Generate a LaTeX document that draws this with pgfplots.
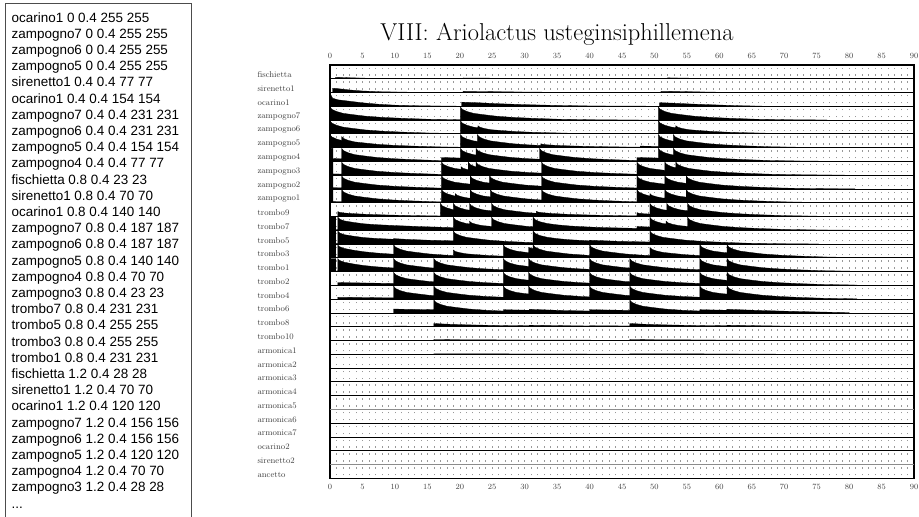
\documentclass[border=0pt]{standalone}
\usepackage{fontspec}
\usepackage{pgfplots}
\pgfplotsset{compat=1.18}
\newfontfamily\boxfont{Liberation Sans}
\def\tdots{...}
\pgfplotsset{env/.style={black, fill=black, line width=0.3bp, mark=none}}
\begin{document}
\begin{tikzpicture}
\useasboundingbox (0bp,0bp) rectangle (919bp,-517bp);
\draw[black!70, line width=1bp] (5bp,-3bp) rectangle (191bp,-540bp);
\foreach \t [count=\i] in {ocarino1 0 0.4 255 255,zampogno7 0 0.4 255 255,zampogno6 0 0.4 255 255,zampogno5 0 0.4 255 255,sirenetto1 0.4 0.4 77 77,ocarino1 0.4 0.4 154 154,zampogno7 0.4 0.4 231 231,zampogno6 0.4 0.4 231 231,zampogno5 0.4 0.4 154 154,zampogno4 0.4 0.4 77 77,fischietta 0.8 0.4 23 23,sirenetto1 0.8 0.4 70 70,ocarino1 0.8 0.4 140 140,zampogno7 0.8 0.4 187 187,zampogno6 0.8 0.4 187 187,zampogno5 0.8 0.4 140 140,zampogno4 0.8 0.4 70 70,zampogno3 0.8 0.4 23 23,trombo7 0.8 0.4 231 231,trombo5 0.8 0.4 255 255,trombo3 0.8 0.4 255 255,trombo1 0.8 0.4 231 231,fischietta 1.2 0.4 28 28,sirenetto1 1.2 0.4 70 70,ocarino1 1.2 0.4 120 120,zampogno7 1.2 0.4 156 156,zampogno6 1.2 0.4 156 156,zampogno5 1.2 0.4 120 120,zampogno4 1.2 0.4 70 70,zampogno3 1.2 0.4 28 28,\tdots}
  \node[anchor=base west, inner sep=0pt, font=\boxfont\fontsize{13.5}{16}\selectfont] at (11.5bp,{-22bp-16.2bp*(\i-1)}) {\t};
\node[anchor=base, inner sep=0pt, font=\fontsize{24.5}{26}\selectfont] at (557bp,-40bp) {VIII: Ariolactus usteginsiphillemena};
\begin{axis}[
  at={(330bp,-478.3bp)}, anchor=south west,
  width=584bp, height=413.3bp, scale only axis,
  xmin=0, xmax=90, ymin=0, ymax=30,
  xtick={0,5,...,90}, minor x tick num=4,
  xmajorgrids, xminorgrids,
  major grid style={black!40, line width=0.55bp, dash pattern=on 1.4bp off 5.49bp, dash phase=4bp},
  minor grid style={black!40, line width=0.55bp, dash pattern=on 1.4bp off 5.49bp, dash phase=4bp},
  major tick length=0pt, minor tick length=0pt,
  axis line style={line width=1.4bp},
  xticklabel style={font=\fontsize{8}{9}\selectfont, text=black!75, yshift=-2.5bp},
  ytick={0.28,1.28,2.28,3.28,4.28,5.28,6.28,7.28,8.28,9.28,10.28,11.28,12.28,13.28,14.28,15.28,16.28,17.28,18.28,19.28,20.28,21.28,22.28,23.28,24.28,25.28,26.28,27.28,28.28,29.28},
  yticklabels={ancetto,sirenetto2,ocarino2,armonica7,armonica6,armonica5,armonica4,armonica3,armonica2,armonica1,trombo10,trombo8,trombo6,trombo4,trombo2,trombo1,trombo3,trombo5,trombo7,trombo9,zampogno1,zampogno2,zampogno3,zampogno4,zampogno5,zampogno6,zampogno7,ocarino1,sirenetto1,fischietta},
  yticklabel style={anchor=west, xshift=-76bp, font=\fontsize{8.5}{10}\selectfont, text=black!75},
]
% fischietta
\addplot[env] table[row sep=\\, x=x, y expr=\thisrow{a}*0.95+29] {x a\\
0.8 0\\ 0.8 0.09\\ 1.2 0.11\\ 3 0.08\\ 6 0.04\\ 10 0.015\\ 20.5 0.005\\ 20.5 0.06\\ 24 0.05\\ 30 0.03\\ 36 0.012\\ 52 0.005\\ 52 0.07\\ 55 0.05\\ 60 0.02\\ 65 0.005\\ 65 0\\};
% sirenetto1
\addplot[env] table[row sep=\\, x=x, y expr=\thisrow{a}*0.95+28] {x a\\
0.4 0\\ 0.4 0.33\\ 1.2 0.3\\ 3 0.2\\ 5 0.12\\ 8 0.06\\ 12 0.03\\ 20.5 0.01\\ 20.5 0.09\\ 25 0.07\\ 30 0.04\\ 36 0.02\\ 51 0.01\\ 51 0.1\\ 54 0.08\\ 58 0.04\\ 62 0.015\\ 66 0\\};
% ocarino1
\addplot[env] table[row sep=\\, x=x, y expr=\thisrow{a}*0.95+27] {x a\\
0 0\\ 0 1\\ 0.4 0.62\\ 1.2 0.5\\ 2.5 0.42\\ 5 0.27\\ 7.5 0.16\\ 10 0.09\\ 14 0.04\\ 20.3 0.01\\ 20.3 0.32\\ 23 0.27\\ 26 0.2\\ 30 0.13\\ 35 0.07\\ 40 0.03\\ 50.8 0.01\\ 50.8 0.28\\ 53 0.24\\ 56 0.17\\ 60 0.1\\ 63 0.05\\ 67 0.01\\ 67 0\\};
% zampogno7
\addplot[env] table[row sep=\\, x=x, y expr=\thisrow{a}*0.95+26] {x a\\
0 0\\ 0 1\\ 0.3 .82\\ 1 .66\\ 2 .52\\ 3.5 .42\\ 5.5 .30\\ 8 .21\\ 11 .14\\ 15 .07\\ 20.1 .03\\
20.1 1\\ 20.4 .82\\ 21.1 .66\\ 22.1 .52\\ 23.6 .42\\ 25.6 .30\\ 28.1 .21\\ 31.1 .14\\ 35.1 .07\\ 40.1 .03\\ 46.1 .01\\ 50.6 .005\\
50.6 1\\ 50.9 .82\\ 51.6 .66\\ 52.6 .52\\ 54.1 .42\\ 56.1 .30\\ 58.6 .21\\ 61.6 .14\\ 65.6 .07\\ 70.6 .03\\ 76.6 .01\\ 76.6 0\\};
% zampogno6
\addplot[env] table[row sep=\\, x=x, y expr=\thisrow{a}*0.95+25] {x a\\
0 0\\ 0 1\\ 0.3 .82\\ 1 .66\\ 2 .52\\ 3.5 .42\\ 5.5 .30\\ 8 .21\\ 11 .14\\ 15 .07\\ 20.1 .03\\
20.1 1\\ 20.4 .82\\ 21.1 .66\\ 22.1 .52\\ 22.8 .47\\
22.8 .62\\ 23.1 .51\\ 23.8 .41\\ 24.8 .32\\ 26.3 .26\\ 28.3 .19\\ 30.8 .13\\ 33.8 .087\\ 37.8 .043\\ 42.8 .019\\ 48.8 .006\\ 50.6 .004\\
50.6 1\\ 50.9 .82\\ 51.6 .66\\ 52.6 .52\\ 53.3 .47\\
53.3 .62\\ 53.6 .51\\ 54.3 .41\\ 55.3 .32\\ 56.8 .26\\ 58.8 .19\\ 61.3 .13\\ 64.3 .087\\ 68.3 .043\\ 73.3 .019\\ 79.3 .006\\ 79.3 0\\};
% zampogno5
\addplot[env] table[row sep=\\, x=x, y expr=\thisrow{a}*0.95+24] {x a\\
0 0\\ 0 1\\ 0.3 .82\\ 1 .66\\ 1.8 .55\\
1.8 .85\\ 2.1 .70\\ 2.8 .56\\ 3.8 .44\\ 5.3 .36\\ 7.3 .255\\ 9.8 .18\\ 12.8 .12\\ 16.8 .06\\ 20.1 .037\\
20.1 1\\ 20.4 .82\\ 21.1 .66\\ 22.1 .52\\ 22.7 .48\\
22.7 1\\ 23 .82\\ 23.7 .66\\ 24.7 .52\\ 26.2 .42\\ 28.2 .30\\ 30.7 .21\\ 32.5 .17\\
32.5 .3\\ 32.8 .255\\ 33.5 .216\\ 35 .174\\ 37 .135\\ 39.5 .10\\ 42.5 .072\\ 46.5 .045\\ 47.8 .04\\
47.8 .12\\ 50.6 .10\\
50.6 1\\ 50.9 .82\\ 51.6 .66\\ 52.6 .52\\ 52.9 .50\\
52.9 1\\ 53.2 .82\\ 53.9 .66\\ 54.9 .52\\ 56.4 .42\\ 58.4 .30\\ 60.9 .21\\ 63.9 .14\\ 67.9 .07\\ 72.9 .03\\ 78.9 .01\\ 78.9 0\\};
% zampogno4
\addplot[env] table[row sep=\\, x=x, y expr=\thisrow{a}*0.95+23] {x a\\
0 0\\ 0 1\\ 0.45 1\\ 0.45 .22\\ 1.8 .2\\
1.8 1\\ 2.1 .82\\ 2.8 .66\\ 3.8 .52\\ 5.3 .42\\ 7.3 .30\\ 9.8 .21\\ 12.8 .14\\ 16.8 .07\\ 17.2 .067\\
17.2 .3\\ 20.1 .26\\
20.1 1\\ 20.4 .82\\ 21.1 .66\\ 22.1 .52\\ 22.5 .49\\
22.5 1\\ 22.8 .82\\ 23.5 .66\\ 24.5 .52\\ 26 .42\\ 28 .30\\ 30.5 .21\\ 32.3 .17\\
32.3 1\\ 32.6 .82\\ 33.3 .66\\ 34.3 .52\\ 35.8 .42\\ 37.8 .30\\ 40.3 .21\\ 43.3 .14\\ 47.3 .07\\
47.3 .3\\ 50.6 .26\\
50.6 1\\ 50.9 .82\\ 51.6 .66\\ 52.6 .52\\ 52.9 .50\\
52.9 1\\ 53.2 .82\\ 53.9 .66\\ 54.9 .52\\ 56.4 .42\\ 58.4 .30\\ 60.9 .21\\ 63.9 .14\\ 67.9 .07\\ 72.9 .03\\ 78.9 .01\\ 78.9 0\\};
% zampogno3
\addplot[env] table[row sep=\\, x=x, y expr=\thisrow{a}*0.95+22] {x a\\
0 0\\ 0 1\\ 0.45 1\\ 0.45 .1\\ 1.8 .09\\
1.8 1\\ 2.1 .82\\ 2.8 .66\\ 3.8 .52\\ 5.3 .42\\ 7.3 .30\\ 9.8 .21\\ 12.8 .14\\ 16.8 .07\\ 17.2 .067\\
17.2 1\\ 17.5 .82\\ 18.2 .66\\ 19.2 .52\\ 20.2 .45\\
20.2 .65\\ 20.5 .53\\ 21.2 .43\\ 21.3 .42\\
21.3 1\\ 21.6 .82\\ 22.3 .66\\ 22.5 .63\\
22.5 1\\ 22.8 .82\\ 23.5 .66\\ 24.5 .52\\ 26 .42\\ 28 .30\\ 30.5 .21\\ 32.6 .16\\
32.6 1\\ 32.9 .82\\ 33.6 .66\\ 34.6 .52\\ 36.1 .42\\ 38.1 .30\\ 40.6 .21\\ 43.6 .14\\ 47.3 .075\\
47.3 1\\ 47.6 .82\\ 48.3 .66\\ 49.3 .52\\ 50.8 .42\\ 51.6 .37\\
51.6 1\\ 51.9 .82\\ 52.6 .66\\ 53.3 .56\\
53.3 1\\ 53.6 .82\\ 54.3 .66\\ 55.3 .52\\ 56.8 .42\\ 58.8 .30\\ 61.3 .21\\ 64.3 .14\\ 68.3 .07\\ 73.3 .03\\ 79.3 .01\\ 79.3 0\\};
% zampogno2
\addplot[env] table[row sep=\\, x=x, y expr=\thisrow{a}*0.95+21] {x a\\
0 0\\ 0 1\\ 0.45 1\\ 0.45 .1\\ 1.8 .09\\
1.8 1\\ 2.1 .82\\ 2.8 .66\\ 3.8 .52\\ 5.3 .42\\ 7.3 .30\\ 9.8 .21\\ 12.8 .14\\ 16.8 .07\\ 17.2 .067\\
17.2 1\\ 17.5 .82\\ 18.2 .66\\ 19.2 .52\\ 20.7 .42\\ 21.6 .37\\
21.6 1\\ 21.9 .82\\ 22.6 .66\\ 23.6 .52\\ 24.6 .45\\
24.6 1\\ 24.9 .82\\ 25.6 .66\\ 26.6 .52\\ 28.1 .42\\ 30.1 .30\\ 32.6 .21\\
32.6 1\\ 32.9 .82\\ 33.6 .66\\ 34.6 .52\\ 36.1 .42\\ 38.1 .30\\ 40.6 .21\\ 43.6 .14\\ 47.3 .075\\
47.3 1\\ 47.6 .82\\ 48.3 .66\\ 49.3 .52\\ 50.8 .42\\ 51.6 .37\\
51.6 1\\ 51.9 .82\\ 52.6 .66\\ 53.6 .52\\ 54.9 .43\\
54.9 1\\ 55.2 .82\\ 55.9 .66\\ 56.9 .52\\ 58.4 .42\\ 60.4 .30\\ 62.9 .21\\ 65.9 .14\\ 69.9 .07\\ 74.9 .03\\ 80.9 .01\\ 80.9 0\\};
% zampogno1
\addplot[env] table[row sep=\\, x=x, y expr=\thisrow{a}*0.95+20] {x a\\
0 0\\ 0 1\\ 0.45 1\\ 0.45 .1\\ 1.8 .09\\
1.8 1\\ 2.1 .82\\ 2.8 .66\\ 3.8 .52\\ 5.3 .42\\ 7.3 .30\\ 9.8 .21\\ 12.8 .14\\ 16.8 .07\\ 17.2 .067\\
17.2 1\\ 17.5 .82\\ 18.2 .66\\ 19.2 .52\\ 19.3 .51\\
19.3 .7\\ 19.6 .57\\ 20.3 .46\\ 21.3 .36\\ 21.6 .35\\
21.6 1\\ 21.9 .82\\ 22.6 .66\\ 23.6 .52\\ 24.7 .45\\
24.7 1\\ 25 .82\\ 25.7 .66\\ 26.7 .52\\ 28.2 .42\\ 30.2 .30\\ 32.6 .21\\
32.6 1\\ 32.9 .82\\ 33.6 .66\\ 34.6 .52\\ 36.1 .42\\ 38.1 .30\\ 40.6 .21\\ 43.6 .14\\ 47.3 .075\\
47.3 1\\ 47.6 .82\\ 48.3 .66\\ 49.3 .51\\
49.3 .7\\ 49.6 .57\\ 50.3 .46\\ 51.3 .36\\ 51.6 .35\\
51.6 1\\ 51.9 .82\\ 52.6 .66\\ 53.6 .52\\ 54.9 .43\\
54.9 1\\ 55.2 .82\\ 55.9 .66\\ 56.9 .52\\ 58.4 .42\\ 60.4 .30\\ 62.9 .21\\ 65.9 .14\\ 69.9 .07\\ 74.9 .03\\ 80.9 .01\\ 80.9 0\\};
% trombo9
\addplot[env] table[row sep=\\, x=x, y expr=\thisrow{a}*0.95+19] {x a\\
1.2 0\\ 1.2 .38\\ 1.5 .32\\ 2.2 .27\\ 3.7 .22\\ 5.7 .17\\ 8.2 .13\\ 11.2 .09\\ 15.2 .057\\ 17 .047\\
17 1\\ 17.3 .82\\ 18 .66\\ 19 .52\\
19 1\\ 19.3 .82\\ 20 .66\\ 21 .52\\ 21.5 .49\\
21.5 1\\ 21.8 .82\\ 22.5 .66\\ 23.5 .52\\ 24.9 .43\\
24.9 1\\ 25.2 .82\\ 25.9 .66\\ 26.9 .52\\ 28.4 .42\\ 30.4 .30\\ 31.8 .25\\
31.8 .4\\ 32.1 .34\\ 32.8 .29\\ 34.3 .23\\ 36.3 .18\\ 38.8 .136\\ 41.8 .096\\ 45.8 .06\\ 47.3 .052\\
47.3 .3\\ 47.6 .255\\ 48.3 .216\\ 49.3 .19\\
49.3 1\\ 49.6 .82\\ 50.3 .66\\ 51.3 .52\\ 51.9 .48\\
51.9 1\\ 52.2 .82\\ 52.9 .66\\ 53.9 .52\\ 55.1 .44\\
55.1 1\\ 55.4 .82\\ 56.1 .66\\ 57.1 .52\\ 58.6 .42\\ 60.6 .30\\ 63.1 .21\\ 66.1 .14\\ 70.1 .07\\ 75.1 .03\\ 81.1 .01\\ 81.1 0\\};
% trombo7
\addplot[env] table[row sep=\\, x=x, y expr=\thisrow{a}*0.95+18] {x a\\
0 0\\ 0 1\\ 0.9 1\\ 0.9 .05\\ 1.2 .05\\
1.2 1\\ 1.5 .85\\ 2.2 .72\\ 3.7 .6\\ 5.2 .5\\ 7.2 .43\\ 10.2 .36\\ 14.2 .28\\ 18.2 .22\\ 19 .21\\
19 1\\ 19.3 .82\\ 20 .66\\ 21 .52\\ 21.5 .49\\
21.5 .7\\ 21.8 .57\\ 22.5 .46\\ 23.5 .36\\ 24.9 .30\\
24.9 1\\ 25.2 .82\\ 25.9 .66\\ 26.9 .52\\ 28.4 .42\\ 30.4 .30\\ 31.3 .27\\
31.3 1\\ 31.6 .82\\ 32.3 .66\\ 33.5 .52\\ 35 .42\\ 37 .33\\ 40 .25\\ 43 .2\\ 47.3 .15\\
47.3 .3\\ 49.3 .25\\
49.3 1\\ 49.6 .82\\ 50.3 .66\\ 51.3 .52\\ 51.8 .49\\
51.8 .7\\ 52.1 .57\\ 52.8 .46\\ 53.8 .36\\ 55.1 .30\\
55.1 1\\ 55.4 .82\\ 56.1 .66\\ 57.1 .52\\ 58.6 .42\\ 60.6 .30\\ 63.1 .21\\ 66.1 .14\\ 70.1 .07\\ 75.1 .03\\ 81.1 .01\\ 81.1 0\\};
% trombo5
\addplot[env] table[row sep=\\, x=x, y expr=\thisrow{a}*0.95+17] {x a\\
0 0\\ 0 1\\ 0.9 1\\ 0.9 .05\\ 1.2 .05\\
1.2 1\\ 1.5 .85\\ 2.2 .72\\ 3.7 .6\\ 5.2 .5\\ 7.2 .43\\ 9.8 .37\\
9.8 .42\\ 12 .36\\ 15 .3\\ 19 .25\\
19 1\\ 19.3 .82\\ 20 .66\\ 21 .52\\ 22.5 .42\\ 24.5 .30\\ 27 .21\\ 30 .14\\ 31.3 .12\\
31.3 1\\ 31.6 .82\\ 32.3 .66\\ 33.5 .52\\ 35 .42\\ 37 .33\\ 40 .25\\
40 .3\\ 44 .22\\ 49.3 .16\\
49.3 1\\ 49.6 .82\\ 50.3 .66\\ 51.3 .52\\ 52.8 .42\\ 54.8 .30\\ 57.3 .21\\ 60.3 .14\\ 64.3 .07\\ 69.3 .03\\ 75.3 .01\\ 75.3 0\\};
% trombo3
\addplot[env] table[row sep=\\, x=x, y expr=\thisrow{a}*0.95+16] {x a\\
0 0\\ 0 1\\ 0.9 1\\ 0.9 .05\\ 1.2 .05\\
1.2 1\\ 1.5 .85\\ 2.2 .72\\ 3.7 .58\\ 5.2 .47\\ 7.2 .37\\ 9.8 .28\\
9.8 1\\ 10.1 .82\\ 10.8 .66\\ 11.8 .52\\ 13.3 .42\\ 15.3 .30\\ 17.8 .21\\ 19 .18\\
19 .6\\ 19.3 .49\\ 20 .40\\ 21 .31\\ 22.5 .25\\ 24.5 .18\\ 26.7 .13\\
26.7 1\\ 27 .82\\ 27.7 .66\\ 28.7 .52\\ 30.2 .42\\ 30.6 .40\\
30.6 .8\\ 31.3 .7\\
31.3 1\\ 31.6 .82\\ 32.3 .66\\ 33.3 .52\\ 34.8 .42\\ 36.8 .30\\ 39.3 .21\\ 40 .19\\
40 1\\ 40.3 .82\\ 41 .66\\ 42 .52\\ 43.5 .42\\ 45.5 .30\\ 48 .21\\ 49.3 .18\\
49.3 .8\\ 49.6 .66\\ 50.3 .53\\ 51.3 .42\\ 52.8 .34\\ 54.8 .24\\ 57 .18\\
57 1\\ 57.3 .82\\ 58 .66\\ 59 .52\\ 60.5 .42\\ 61.2 .39\\
61.2 1\\ 61.5 .82\\ 62.2 .66\\ 63.2 .52\\ 64.7 .42\\ 66.7 .30\\ 69.2 .21\\ 72.2 .14\\ 76.2 .07\\ 81.2 .03\\ 81.2 0\\};
% trombo1
\addplot[env] table[row sep=\\, x=x, y expr=\thisrow{a}*0.95+15] {x a\\
0 0\\ 0 1\\ 0.9 1\\ 0.9 .05\\ 1.2 .05\\
1.2 1\\ 1.5 .85\\ 2.2 .72\\ 3.7 .58\\ 5.2 .47\\ 7.2 .37\\ 9.8 .28\\
9.8 1\\ 10.1 .82\\ 10.8 .66\\ 11.8 .52\\ 13.3 .42\\ 15.3 .30\\ 16 .275\\
16 1\\ 16.3 .82\\ 17 .66\\ 18 .52\\ 19.5 .42\\ 21.5 .30\\ 24 .21\\ 26.7 .15\\
26.7 1\\ 27 .82\\ 27.7 .66\\ 28.7 .52\\ 30.2 .42\\ 30.6 .40\\
30.6 1\\ 30.9 .82\\ 31.6 .66\\ 32.6 .52\\ 34.1 .42\\ 36.1 .30\\ 38.6 .21\\ 40 .18\\
40 1\\ 40.3 .82\\ 41 .66\\ 42 .52\\ 43.5 .42\\ 45.5 .30\\ 46.2 .275\\
46.2 1\\ 46.5 .82\\ 47.2 .66\\ 48.2 .52\\ 49.7 .42\\ 51.7 .30\\ 54.2 .21\\ 57 .15\\
57 1\\ 57.3 .82\\ 58 .66\\ 59 .52\\ 60.5 .42\\ 61.2 .39\\
61.2 1\\ 61.5 .82\\ 62.2 .66\\ 63.2 .52\\ 64.7 .42\\ 66.7 .30\\ 69.2 .21\\ 72.2 .14\\ 76.2 .07\\ 81.2 .03\\ 81.2 0\\};
% trombo2
\addplot[env] table[row sep=\\, x=x, y expr=\thisrow{a}*0.95+14] {x a\\
1.2 0\\ 1.2 .22\\ 5 .19\\ 9.8 .15\\
9.8 1\\ 10.1 .82\\ 10.8 .66\\ 11.8 .52\\ 13.3 .42\\ 15.3 .30\\ 16 .275\\
16 1\\ 16.3 .82\\ 17 .66\\ 18 .52\\ 19.5 .42\\ 21.5 .30\\ 24 .21\\ 26.7 .15\\
26.7 1\\ 27 .82\\ 27.7 .66\\ 28.7 .52\\ 30.2 .42\\ 30.6 .40\\
30.6 1\\ 30.9 .82\\ 31.6 .66\\ 32.6 .52\\ 34.1 .42\\ 36.1 .30\\ 38.6 .21\\ 40 .18\\
40 1\\ 40.3 .82\\ 41 .66\\ 42 .52\\ 43.5 .42\\ 45.5 .30\\ 46.2 .275\\
46.2 1\\ 46.5 .82\\ 47.2 .66\\ 48.2 .52\\ 49.7 .42\\ 51.7 .30\\ 54.2 .21\\ 57 .15\\
57 1\\ 57.3 .82\\ 58 .66\\ 59 .52\\ 60.5 .42\\ 61.2 .39\\
61.2 1\\ 61.5 .82\\ 62.2 .66\\ 63.2 .52\\ 64.7 .42\\ 66.7 .30\\ 69.2 .21\\ 72.2 .14\\ 76.2 .07\\ 81.2 .03\\ 81.2 0\\};
% trombo4
\addplot[env] table[row sep=\\, x=x, y expr=\thisrow{a}*0.95+13] {x a\\
1.2 0\\ 1.2 .15\\ 5 .13\\ 9.8 .1\\
9.8 1\\ 10.1 .82\\ 10.8 .66\\ 11.8 .52\\ 13.3 .42\\ 15.3 .30\\ 16 .275\\
16 1\\ 16.3 .82\\ 17 .66\\ 18 .52\\ 19.5 .42\\ 21.5 .30\\ 24 .21\\ 26.7 .15\\
26.7 1\\ 27 .82\\ 27.7 .66\\ 28.7 .52\\ 30.2 .42\\ 30.6 .40\\
30.6 1\\ 30.9 .82\\ 31.6 .66\\ 32.6 .52\\ 34.1 .42\\ 36.1 .30\\ 38.6 .21\\ 40 .18\\
40 1\\ 40.3 .82\\ 41 .66\\ 42 .52\\ 43.5 .42\\ 45.5 .30\\ 46.2 .275\\
46.2 1\\ 46.5 .82\\ 47.2 .66\\ 48.2 .52\\ 49.7 .42\\ 51.7 .30\\ 54.2 .21\\ 57 .15\\
57 1\\ 57.3 .82\\ 58 .66\\ 59 .52\\ 60.5 .42\\ 61.2 .39\\
61.2 1\\ 61.5 .82\\ 62.2 .66\\ 63.2 .52\\ 64.7 .42\\ 66.7 .30\\ 69.2 .21\\ 72.2 .14\\ 76.2 .07\\ 81.2 .03\\ 81.2 0\\};
% trombo6
\addplot[env] table[row sep=\\, x=x, y expr=\thisrow{a}*0.95+12] {x a\\
9.8 0\\ 9.8 .3\\ 12 .28\\ 16 .25\\
16 1\\ 16.3 .82\\ 17 .66\\ 18 .52\\ 19.5 .42\\ 21.5 .30\\ 24 .21\\ 26.7 .15\\
26.7 .25\\ 30.7 .21\\ 30.7 .28\\ 33 .24\\ 36 .19\\ 40 .15\\ 40 .25\\ 46.2 .2\\
46.2 1\\ 46.5 .82\\ 47.2 .66\\ 48.2 .52\\ 49.7 .42\\ 51.7 .30\\ 54.2 .21\\ 57 .15\\
57 .25\\ 61.2 .21\\ 61.2 .28\\ 63.5 .24\\ 66.5 .19\\ 70 .14\\ 75 .08\\ 80 .03\\ 80 0\\};
% trombo8
\addplot[env] table[row sep=\\, x=x, y expr=\thisrow{a}*0.95+11] {x a\\
9.8 0\\ 9.8 .05\\ 16 .04\\ 16 .25\\ 18 .2\\ 21 .15\\ 26.7 .09\\ 26.7 .1\\ 30.7 .08\\ 30.7 .12\\ 35 .09\\ 40 .06\\ 40 .08\\ 46.2 .06\\
46.2 .25\\ 48.2 .2\\ 51.2 .15\\ 57 .09\\ 57 .1\\ 61.2 .08\\ 61.2 .12\\ 66 .08\\ 72 .04\\ 78 .01\\ 78 0\\};
% trombo10
\addplot[env] table[row sep=\\, x=x, y expr=\thisrow{a}*0.95+10] {x a\\
16 0\\ 16 .08\\ 20 .06\\ 30 .04\\ 40 .03\\ 46.2 .02\\ 46.2 .08\\ 50 .06\\ 60 .04\\ 70 .02\\ 76 0\\};
% armonica1
\addplot[env] table[row sep=\\, x=x, y expr=\thisrow{a}*0.95+9] {x a\\
16 0\\ 16 .04\\ 30 .03\\ 46.2 .02\\ 46.2 .04\\ 60 .03\\ 70 .01\\ 70 0\\};
\pgfplotsinvokeforeach{1,...,29}{\draw[black, line width=0.8bp] (axis cs:0,#1) -- (axis cs:90,#1);}
\draw[black!45, line width=1.4bp] (axis cs:0,5) -- (axis cs:90,5);
\draw[black!45, line width=1.4bp] (axis cs:0,1) -- (axis cs:90,1);
\end{axis}
\begin{axis}[
  at={(330bp,-478.3bp)}, anchor=south west,
  width=584bp, height=413.3bp, scale only axis,
  xmin=0, xmax=90, ymin=0, ymax=1,
  xtick={0,5,...,90}, ytick=\empty,
  xticklabel pos=upper,
  major tick length=0pt,
  axis line style={draw=none},
  xticklabel style={font=\fontsize{8}{9}\selectfont, text=black!75, yshift=2.5bp},
]
\end{axis}
\end{tikzpicture}
\end{document}
